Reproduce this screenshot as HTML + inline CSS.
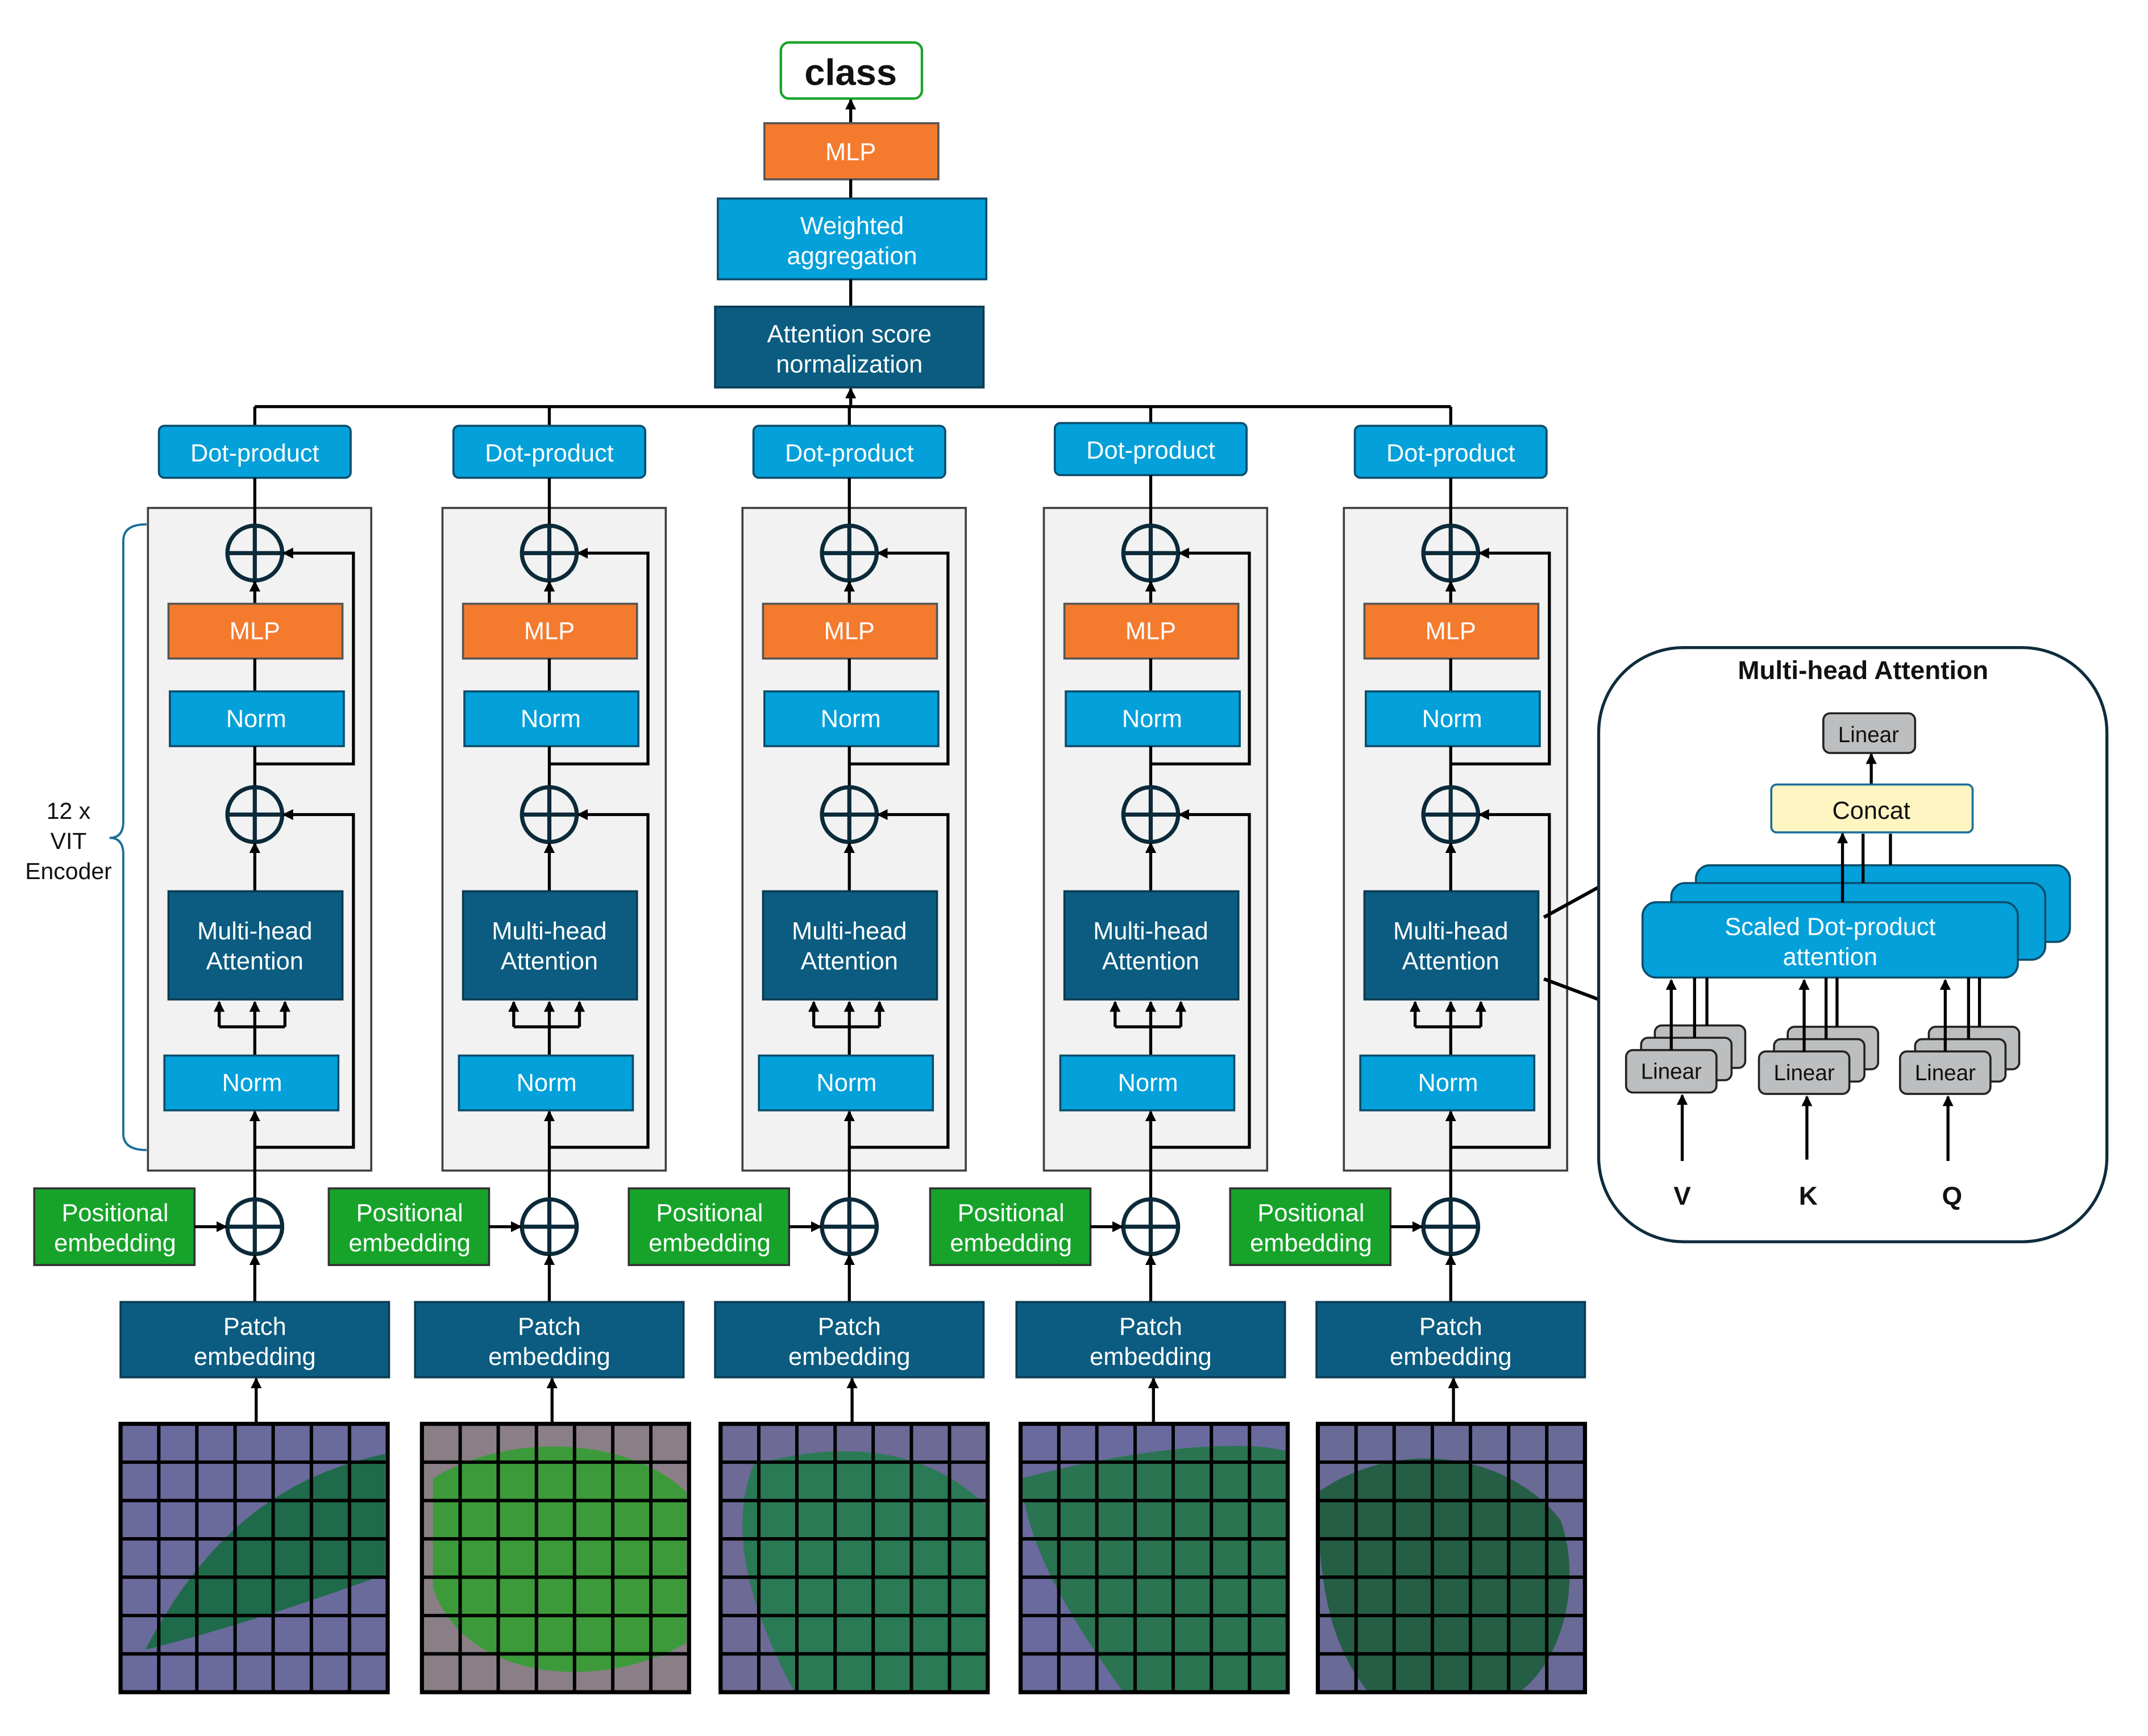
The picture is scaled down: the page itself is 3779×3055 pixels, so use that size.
<!DOCTYPE html>
<html><head><meta charset="utf-8"><style>
html,body{margin:0;padding:0;background:#fff}
svg{display:block}
text{font-family:"Liberation Sans","DejaVu Sans",sans-serif;text-anchor:middle}
.w{fill:#fff;font-size:18px}
.k{fill:#111;font-size:17px}
.ln{stroke:#000;stroke-width:2.2;fill:none}
.c{fill:none;stroke:#0b2a3a;stroke-width:3}
.dp{fill:#03a0da;stroke:#0b4d6b;stroke-width:1.5}
.or{fill:#f47a2e;stroke:#555;stroke-width:1.5}
.bl{fill:#03a0da;stroke:#0b4d6b;stroke-width:1.5}
.dk{fill:#0b5c80;stroke:#0b3b52;stroke-width:1.5}
.gr{fill:#17a32a;stroke:#333;stroke-width:1.5}
.bg{fill:#f2f2f2;stroke:#404040;stroke-width:1.5}
.gy{fill:#bcbebf;stroke:#222;stroke-width:1.5}
</style></head><body>
<svg width="3779" height="3055" viewBox="0 0 1568 1268" preserveAspectRatio="none" xmlns="http://www.w3.org/2000/svg">
<defs>
<marker id="a" markerWidth="8" markerHeight="8" refX="7" refY="4" orient="auto" markerUnits="userSpaceOnUse"><path d="M0,0L8,4L0,8z" fill="#000"/></marker>
<g id="grid">
<rect x="0" y="0" width="195" height="196" fill="none" stroke="#000" stroke-width="3"/>
<path d="M27.9,0V196M55.7,0V196M83.6,0V196M111.4,0V196M139.3,0V196M167.1,0V196M0,28H195M0,56H195M0,84H195M0,112H195M0,140H195M0,168H195" stroke="#000" stroke-width="2.5"/>
</g>
<g id="circ"><circle cx="0" cy="0" r="20" class="c"/><path d="M-20,0H20M0,-20V20" class="c"/></g>
</defs>

<rect x="570" y="31" width="103" height="41" rx="6" fill="#fff" stroke="#1aa32a" stroke-width="1.8"/>
<text x="621" y="62" style="font-size:27px;font-weight:bold;fill:#111">class</text>
<line x1="621" y1="90" x2="621" y2="73" class="ln" marker-end="url(#a)"/>
<rect x="558" y="90" width="127" height="41" class="or"/><text x="621" y="117" class="w">MLP</text>
<line x1="621" y1="145" x2="621" y2="131" class="ln"/>
<rect x="524" y="145" width="196" height="59" class="bl"/><text x="622" y="171" class="w">Weighted</text><text x="622" y="193" class="w">aggregation</text>
<line x1="621" y1="224" x2="621" y2="204" class="ln"/>
<rect x="522" y="224" width="196" height="59" class="dk"/><text x="620" y="250" class="w">Attention score</text><text x="620" y="272" class="w">normalization</text>
<line x1="621" y1="297" x2="621" y2="284" class="ln" marker-end="url(#a)"/>
<line x1="186" y1="297" x2="1059" y2="297" class="ln"/>

<path d="M107,383 Q90,383 90,395 V600 Q90,612 80,612 Q90,612 90,624 V828 Q90,840 107,840" fill="none" stroke="#1a6e99" stroke-width="1.6"/>
<text x="50" y="598" class="k">12 x</text><text x="50" y="620" class="k">VIT</text><text x="50" y="642" class="k">Encoder</text>

<g transform="translate(186,0)">
<line x1="0" y1="297" x2="0" y2="311" class="ln"/>
<rect x="-70" y="311" width="140" height="38" rx="4" class="dp"/><text x="0" y="337" class="w">Dot-product</text>
<rect x="-78" y="371" width="163" height="484" class="bg"/>
<line x1="0" y1="349" x2="0" y2="384" class="ln"/>
<use href="#circ" x="0" y="404"/>
<line x1="0" y1="441" x2="0" y2="425" class="ln" marker-end="url(#a)"/>
<rect x="-63" y="441" width="127" height="40" class="or"/><text x="0" y="467" class="w">MLP</text>
<line x1="0" y1="505" x2="0" y2="481" class="ln"/>
<rect x="-62" y="505" width="127" height="40" class="bl"/><text x="1" y="531" class="w">Norm</text>
<line x1="0" y1="575" x2="0" y2="545" class="ln"/>
<use href="#circ" x="0" y="595"/>
<line x1="0" y1="651" x2="0" y2="616" class="ln" marker-end="url(#a)"/>
<rect x="-63" y="651" width="127" height="79" class="dk"/><text x="0" y="686" class="w">Multi-head</text><text x="0" y="708" class="w">Attention</text>
<path d="M0,771V750M-26,750H22" class="ln"/>
<line x1="-26" y1="750" x2="-26" y2="732" class="ln" marker-end="url(#a)"/><line x1="0" y1="750" x2="0" y2="732" class="ln" marker-end="url(#a)"/><line x1="22" y1="750" x2="22" y2="732" class="ln" marker-end="url(#a)"/>
<rect x="-66" y="771" width="127" height="40" class="bl"/><text x="-2" y="797" class="w">Norm</text>
<line x1="0" y1="876" x2="0" y2="812" class="ln" marker-end="url(#a)"/>
<path d="M0,838H72V595H21" class="ln" marker-end="url(#a)"/>
<path d="M0,558H72V404H21" class="ln" marker-end="url(#a)"/>
<use href="#circ" x="0" y="896"/>
<rect x="-161" y="868" width="117" height="56" class="gr"/><text x="-102" y="892" class="w">Positional</text><text x="-102" y="914" class="w">embedding</text>
<line x1="-44" y1="896" x2="-21" y2="896" class="ln" marker-end="url(#a)"/>
<line x1="0" y1="951" x2="0" y2="917" class="ln" marker-end="url(#a)"/>
<rect x="-98" y="951" width="196" height="55" class="dk"/><text x="0" y="975" class="w">Patch</text><text x="0" y="997" class="w">embedding</text>
<line x1="1" y1="1040" x2="1" y2="1007" class="ln" marker-end="url(#a)"/>
<rect x="-98" y="1040" width="195" height="196" fill="#6b6a9c"/>
<path d="M-80,1205 C-40,1130 10,1080 95,1062 L95,1150 C40,1170 -20,1190 -80,1205z" fill="#1f6a4a"/>
<use href="#grid" x="-98" y="1040"/>
</g>

<g transform="translate(401,0)">
<line x1="0" y1="297" x2="0" y2="311" class="ln"/>
<rect x="-70" y="311" width="140" height="38" rx="4" class="dp"/><text x="0" y="337" class="w">Dot-product</text>
<rect x="-78" y="371" width="163" height="484" class="bg"/>
<line x1="0" y1="349" x2="0" y2="384" class="ln"/>
<use href="#circ" x="0" y="404"/>
<line x1="0" y1="441" x2="0" y2="425" class="ln" marker-end="url(#a)"/>
<rect x="-63" y="441" width="127" height="40" class="or"/><text x="0" y="467" class="w">MLP</text>
<line x1="0" y1="505" x2="0" y2="481" class="ln"/>
<rect x="-62" y="505" width="127" height="40" class="bl"/><text x="1" y="531" class="w">Norm</text>
<line x1="0" y1="575" x2="0" y2="545" class="ln"/>
<use href="#circ" x="0" y="595"/>
<line x1="0" y1="651" x2="0" y2="616" class="ln" marker-end="url(#a)"/>
<rect x="-63" y="651" width="127" height="79" class="dk"/><text x="0" y="686" class="w">Multi-head</text><text x="0" y="708" class="w">Attention</text>
<path d="M0,771V750M-26,750H22" class="ln"/>
<line x1="-26" y1="750" x2="-26" y2="732" class="ln" marker-end="url(#a)"/><line x1="0" y1="750" x2="0" y2="732" class="ln" marker-end="url(#a)"/><line x1="22" y1="750" x2="22" y2="732" class="ln" marker-end="url(#a)"/>
<rect x="-66" y="771" width="127" height="40" class="bl"/><text x="-2" y="797" class="w">Norm</text>
<line x1="0" y1="876" x2="0" y2="812" class="ln" marker-end="url(#a)"/>
<path d="M0,838H72V595H21" class="ln" marker-end="url(#a)"/>
<path d="M0,558H72V404H21" class="ln" marker-end="url(#a)"/>
<use href="#circ" x="0" y="896"/>
<rect x="-161" y="868" width="117" height="56" class="gr"/><text x="-102" y="892" class="w">Positional</text><text x="-102" y="914" class="w">embedding</text>
<line x1="-44" y1="896" x2="-21" y2="896" class="ln" marker-end="url(#a)"/>
<line x1="0" y1="951" x2="0" y2="917" class="ln" marker-end="url(#a)"/>
<rect x="-98" y="951" width="196" height="55" class="dk"/><text x="0" y="975" class="w">Patch</text><text x="0" y="997" class="w">embedding</text>
<line x1="2" y1="1040" x2="2" y2="1007" class="ln" marker-end="url(#a)"/>
<rect x="-93" y="1040" width="195" height="196" fill="#8a7f86"/>
<path d="M-85,1080 C-30,1045 60,1050 100,1090 L100,1200 C40,1235 -60,1230 -85,1160z" fill="#3c9a3a"/>
<use href="#grid" x="-93" y="1040"/>
</g>

<g transform="translate(620,0)">
<line x1="0" y1="297" x2="0" y2="311" class="ln"/>
<rect x="-70" y="311" width="140" height="38" rx="4" class="dp"/><text x="0" y="337" class="w">Dot-product</text>
<rect x="-78" y="371" width="163" height="484" class="bg"/>
<line x1="0" y1="349" x2="0" y2="384" class="ln"/>
<use href="#circ" x="0" y="404"/>
<line x1="0" y1="441" x2="0" y2="425" class="ln" marker-end="url(#a)"/>
<rect x="-63" y="441" width="127" height="40" class="or"/><text x="0" y="467" class="w">MLP</text>
<line x1="0" y1="505" x2="0" y2="481" class="ln"/>
<rect x="-62" y="505" width="127" height="40" class="bl"/><text x="1" y="531" class="w">Norm</text>
<line x1="0" y1="575" x2="0" y2="545" class="ln"/>
<use href="#circ" x="0" y="595"/>
<line x1="0" y1="651" x2="0" y2="616" class="ln" marker-end="url(#a)"/>
<rect x="-63" y="651" width="127" height="79" class="dk"/><text x="0" y="686" class="w">Multi-head</text><text x="0" y="708" class="w">Attention</text>
<path d="M0,771V750M-26,750H22" class="ln"/>
<line x1="-26" y1="750" x2="-26" y2="732" class="ln" marker-end="url(#a)"/><line x1="0" y1="750" x2="0" y2="732" class="ln" marker-end="url(#a)"/><line x1="22" y1="750" x2="22" y2="732" class="ln" marker-end="url(#a)"/>
<rect x="-66" y="771" width="127" height="40" class="bl"/><text x="-2" y="797" class="w">Norm</text>
<line x1="0" y1="876" x2="0" y2="812" class="ln" marker-end="url(#a)"/>
<path d="M0,838H72V595H21" class="ln" marker-end="url(#a)"/>
<path d="M0,558H72V404H21" class="ln" marker-end="url(#a)"/>
<use href="#circ" x="0" y="896"/>
<rect x="-161" y="868" width="117" height="56" class="gr"/><text x="-102" y="892" class="w">Positional</text><text x="-102" y="914" class="w">embedding</text>
<line x1="-44" y1="896" x2="-21" y2="896" class="ln" marker-end="url(#a)"/>
<line x1="0" y1="951" x2="0" y2="917" class="ln" marker-end="url(#a)"/>
<rect x="-98" y="951" width="196" height="55" class="dk"/><text x="0" y="975" class="w">Patch</text><text x="0" y="997" class="w">embedding</text>
<line x1="2" y1="1040" x2="2" y2="1007" class="ln" marker-end="url(#a)"/>
<rect x="-94" y="1040" width="195" height="196" fill="#6d6a96"/>
<path d="M-70,1070 C0,1050 60,1060 100,1100 L100,1236 L-40,1236 C-70,1180 -90,1120 -70,1070z" fill="#2a7a55"/>
<use href="#grid" x="-94" y="1040"/>
</g>

<g transform="translate(840,0)">
<line x1="0" y1="297" x2="0" y2="309" class="ln"/>
<rect x="-70" y="309" width="140" height="38" rx="4" class="dp"/><text x="0" y="335" class="w">Dot-product</text>
<rect x="-78" y="371" width="163" height="484" class="bg"/>
<line x1="0" y1="347" x2="0" y2="384" class="ln"/>
<use href="#circ" x="0" y="404"/>
<line x1="0" y1="441" x2="0" y2="425" class="ln" marker-end="url(#a)"/>
<rect x="-63" y="441" width="127" height="40" class="or"/><text x="0" y="467" class="w">MLP</text>
<line x1="0" y1="505" x2="0" y2="481" class="ln"/>
<rect x="-62" y="505" width="127" height="40" class="bl"/><text x="1" y="531" class="w">Norm</text>
<line x1="0" y1="575" x2="0" y2="545" class="ln"/>
<use href="#circ" x="0" y="595"/>
<line x1="0" y1="651" x2="0" y2="616" class="ln" marker-end="url(#a)"/>
<rect x="-63" y="651" width="127" height="79" class="dk"/><text x="0" y="686" class="w">Multi-head</text><text x="0" y="708" class="w">Attention</text>
<path d="M0,771V750M-26,750H22" class="ln"/>
<line x1="-26" y1="750" x2="-26" y2="732" class="ln" marker-end="url(#a)"/><line x1="0" y1="750" x2="0" y2="732" class="ln" marker-end="url(#a)"/><line x1="22" y1="750" x2="22" y2="732" class="ln" marker-end="url(#a)"/>
<rect x="-66" y="771" width="127" height="40" class="bl"/><text x="-2" y="797" class="w">Norm</text>
<line x1="0" y1="876" x2="0" y2="812" class="ln" marker-end="url(#a)"/>
<path d="M0,838H72V595H21" class="ln" marker-end="url(#a)"/>
<path d="M0,558H72V404H21" class="ln" marker-end="url(#a)"/>
<use href="#circ" x="0" y="896"/>
<rect x="-161" y="868" width="117" height="56" class="gr"/><text x="-102" y="892" class="w">Positional</text><text x="-102" y="914" class="w">embedding</text>
<line x1="-44" y1="896" x2="-21" y2="896" class="ln" marker-end="url(#a)"/>
<line x1="0" y1="951" x2="0" y2="917" class="ln" marker-end="url(#a)"/>
<rect x="-98" y="951" width="196" height="55" class="dk"/><text x="0" y="975" class="w">Patch</text><text x="0" y="997" class="w">embedding</text>
<line x1="2" y1="1040" x2="2" y2="1007" class="ln" marker-end="url(#a)"/>
<rect x="-95" y="1040" width="195" height="196" fill="#6a6a9e"/>
<path d="M-95,1080 C-20,1060 60,1050 100,1060 L100,1236 L-20,1236 C-60,1180 -90,1130 -95,1080z" fill="#2a7452"/>
<use href="#grid" x="-95" y="1040"/>
</g>

<g transform="translate(1059,0)">
<line x1="0" y1="297" x2="0" y2="311" class="ln"/>
<rect x="-70" y="311" width="140" height="38" rx="4" class="dp"/><text x="0" y="337" class="w">Dot-product</text>
<rect x="-78" y="371" width="163" height="484" class="bg"/>
<line x1="0" y1="349" x2="0" y2="384" class="ln"/>
<use href="#circ" x="0" y="404"/>
<line x1="0" y1="441" x2="0" y2="425" class="ln" marker-end="url(#a)"/>
<rect x="-63" y="441" width="127" height="40" class="or"/><text x="0" y="467" class="w">MLP</text>
<line x1="0" y1="505" x2="0" y2="481" class="ln"/>
<rect x="-62" y="505" width="127" height="40" class="bl"/><text x="1" y="531" class="w">Norm</text>
<line x1="0" y1="575" x2="0" y2="545" class="ln"/>
<use href="#circ" x="0" y="595"/>
<line x1="0" y1="651" x2="0" y2="616" class="ln" marker-end="url(#a)"/>
<rect x="-63" y="651" width="127" height="79" class="dk"/><text x="0" y="686" class="w">Multi-head</text><text x="0" y="708" class="w">Attention</text>
<path d="M0,771V750M-26,750H22" class="ln"/>
<line x1="-26" y1="750" x2="-26" y2="732" class="ln" marker-end="url(#a)"/><line x1="0" y1="750" x2="0" y2="732" class="ln" marker-end="url(#a)"/><line x1="22" y1="750" x2="22" y2="732" class="ln" marker-end="url(#a)"/>
<rect x="-66" y="771" width="127" height="40" class="bl"/><text x="-2" y="797" class="w">Norm</text>
<line x1="0" y1="876" x2="0" y2="812" class="ln" marker-end="url(#a)"/>
<path d="M0,838H72V595H21" class="ln" marker-end="url(#a)"/>
<path d="M0,558H72V404H21" class="ln" marker-end="url(#a)"/>
<use href="#circ" x="0" y="896"/>
<rect x="-161" y="868" width="117" height="56" class="gr"/><text x="-102" y="892" class="w">Positional</text><text x="-102" y="914" class="w">embedding</text>
<line x1="-44" y1="896" x2="-21" y2="896" class="ln" marker-end="url(#a)"/>
<line x1="0" y1="951" x2="0" y2="917" class="ln" marker-end="url(#a)"/>
<rect x="-98" y="951" width="196" height="55" class="dk"/><text x="0" y="975" class="w">Patch</text><text x="0" y="997" class="w">embedding</text>
<line x1="2" y1="1040" x2="2" y2="1007" class="ln" marker-end="url(#a)"/>
<rect x="-97" y="1040" width="195" height="196" fill="#6a6a96"/>
<path d="M-97,1090 C-40,1050 40,1060 80,1110 C95,1150 85,1210 50,1236 L-60,1236 C-90,1200 -97,1150 -97,1090z" fill="#245e45"/>
<use href="#grid" x="-97" y="1040"/>
</g>

<line x1="1127" y1="670" x2="1167" y2="648" stroke="#000" stroke-width="2.5"/>
<line x1="1127" y1="715" x2="1167" y2="730" stroke="#000" stroke-width="2.5"/>

<rect x="1167" y="473" width="371" height="434" rx="62" fill="#fff" stroke="#0e2c3c" stroke-width="2.2"/>
<text x="1360" y="496" style="font-size:19px;font-weight:bold;fill:#111">Multi-head Attention</text>
<rect x="1331" y="521" width="67" height="29" rx="5" class="gy"/><text x="1364" y="542" style="font-size:16px;fill:#111">Linear</text>
<line x1="1366" y1="573" x2="1366" y2="551" class="ln" marker-end="url(#a)"/>
<rect x="1293" y="573" width="147" height="35" rx="4" fill="#fff5c2" stroke="#1a6e99" stroke-width="1.5"/><text x="1366" y="598" style="font-size:18px;fill:#111">Concat</text>
<rect x="1238" y="632" width="273" height="56" rx="10" class="bl"/>
<rect x="1220" y="645" width="273" height="56" rx="10" class="bl"/>
<rect x="1199" y="659" width="274" height="55" rx="10" class="bl"/>
<line x1="1345" y1="659" x2="1345" y2="609" class="ln" marker-end="url(#a)"/>
<line x1="1360" y1="645" x2="1360" y2="609" class="ln"/>
<line x1="1380" y1="632" x2="1380" y2="609" class="ln"/>
<text x="1336" y="683" class="w">Scaled Dot-product</text><text x="1336" y="705" class="w">attention</text>
<g>
<rect x="1208" y="749" width="66" height="31" rx="5" class="gy"/><rect x="1198" y="758" width="66" height="31" rx="5" class="gy"/><rect x="1187" y="767" width="66" height="31" rx="5" class="gy"/>
<text x="1220" y="788" style="font-size:16px;fill:#111">Linear</text>
<line x1="1220" y1="767" x2="1220" y2="716" class="ln" marker-end="url(#a)"/><line x1="1237" y1="758" x2="1237" y2="714" class="ln"/><line x1="1246" y1="749" x2="1246" y2="714" class="ln"/>
<line x1="1228" y1="848" x2="1228" y2="800" class="ln" marker-end="url(#a)"/>
</g>
<g>
<rect x="1305" y="750" width="66" height="31" rx="5" class="gy"/><rect x="1295" y="759" width="66" height="31" rx="5" class="gy"/><rect x="1284" y="768" width="66" height="31" rx="5" class="gy"/>
<text x="1317" y="789" style="font-size:16px;fill:#111">Linear</text>
<line x1="1317" y1="768" x2="1317" y2="716" class="ln" marker-end="url(#a)"/><line x1="1333" y1="759" x2="1333" y2="714" class="ln"/><line x1="1341" y1="750" x2="1341" y2="714" class="ln"/>
<line x1="1319" y1="847" x2="1319" y2="801" class="ln" marker-end="url(#a)"/>
</g>
<g>
<rect x="1408" y="750" width="66" height="31" rx="5" class="gy"/><rect x="1398" y="759" width="66" height="31" rx="5" class="gy"/><rect x="1387" y="768" width="66" height="31" rx="5" class="gy"/>
<text x="1420" y="789" style="font-size:16px;fill:#111">Linear</text>
<line x1="1420" y1="768" x2="1420" y2="716" class="ln" marker-end="url(#a)"/><line x1="1437" y1="759" x2="1437" y2="714" class="ln"/><line x1="1445" y1="750" x2="1445" y2="714" class="ln"/>
<line x1="1422" y1="848" x2="1422" y2="801" class="ln" marker-end="url(#a)"/>
</g>
<text x="1228" y="880" style="font-size:19px;font-weight:bold;fill:#111">V</text>
<text x="1320" y="880" style="font-size:19px;font-weight:bold;fill:#111">K</text>
<text x="1425" y="880" style="font-size:19px;font-weight:bold;fill:#111">Q</text>
</svg>
</body></html>
